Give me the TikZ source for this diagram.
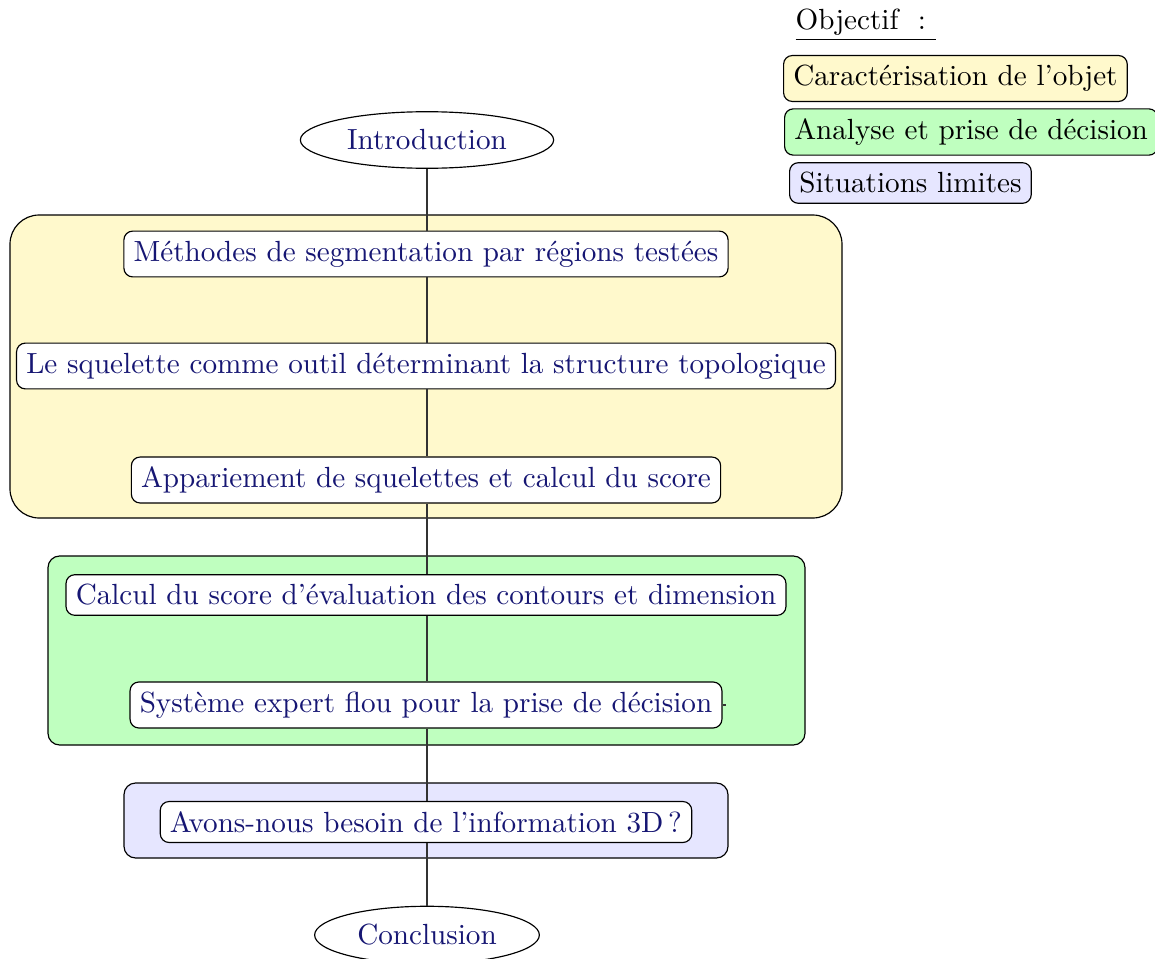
\documentclass[tikz,border=0pt]{standalone}
\usetikzlibrary{shapes.geometric,calc}
\definecolor{txtblue}{RGB}{22,22,115}
\definecolor{cyel}{RGB}{255,249,204}
\definecolor{cgreen}{RGB}{191,255,191}
\definecolor{cblue}{RGB}{230,230,255}
\newlength\pxu
\setlength\pxu{0.343pt}
\begin{document}
\begin{tikzpicture}[x=\pxu,y=-\pxu,
  stepbox/.style={draw,rounded corners=3pt,fill=white,text=txtblue,inner sep=3.33pt},
  endnode/.style={draw,ellipse,fill=white,text=txtblue},
  groupbox/.style={draw,rounded corners=#1,inner sep=0pt},
  legbox/.style={draw,rounded corners=3pt,inner sep=3.33pt,anchor=west},
  link/.style={draw,black!80,line width=0.4pt}]
\useasboundingbox (0,0) rectangle (1155,959);
% group backgrounds
\node[groupbox=10pt,fill=cyel,minimum width=832\pxu,minimum height=303\pxu] (gy) at (426,366.5) {};
\node[groupbox=4pt,fill=cgreen,minimum width=757\pxu,minimum height=189\pxu] (gg) at (426.5,650.5) {};
\node[groupbox=4pt,fill=cblue,minimum width=604\pxu,minimum height=75\pxu] (gb) at (426,820.5) {};
% steps
\node[endnode] (intro) at (427,140) {Introduction};
\node[stepbox] (meth) at (426,254) {Méthodes de segmentation par régions testées};
\node[stepbox] (sq) at (426,366) {Le squelette comme outil déterminant la structure topologique};
\node[stepbox] (app) at (426,480) {Appariement de squelettes et calcul du score};
\node[stepbox] (calc) at (426,595) {Calcul du score d'évaluation des contours et dimension};
\node[stepbox] (sys) at (426,705) {Système expert flou pour la prise de décision};
\node[stepbox] (avons) at (426,822) {Avons-nous besoin de l'information 3D\,?};
\node[endnode] (concl) at (427,935) {Conclusion};
% connectors
\draw[link] (intro) -- (intro |- meth.north);
\draw[link] (intro |- meth.south) -- (intro |- sq.north);
\draw[link] (intro |- sq.south) -- (intro |- app.north);
\draw[link] (intro |- app.south) -- (intro |- calc.north);
\draw[link] (intro |- calc.south) -- (intro |- sys.north);
\draw[link] (intro |- sys.south) -- (intro |- avons.north);
\draw[link] (intro |- avons.south) -- (concl);
\coordinate (tick) at ($(sys.east)+(3,0)$);
\draw[link] (sys.east) -- (tick);
% legend
\node[anchor=west,inner sep=0pt] (obj) at (795,25) {\underline{Objectif\ \ :\ }};
\node[legbox,fill=cyel] (l1) at (783,78.5) {Caractérisation de l'objet};
\node[legbox,fill=cgreen] (l2) at (784,132) {Analyse et prise de décision};
\node[legbox,fill=cblue] (l3) at (789,183) {Situations limites};
\end{tikzpicture}
\end{document}
